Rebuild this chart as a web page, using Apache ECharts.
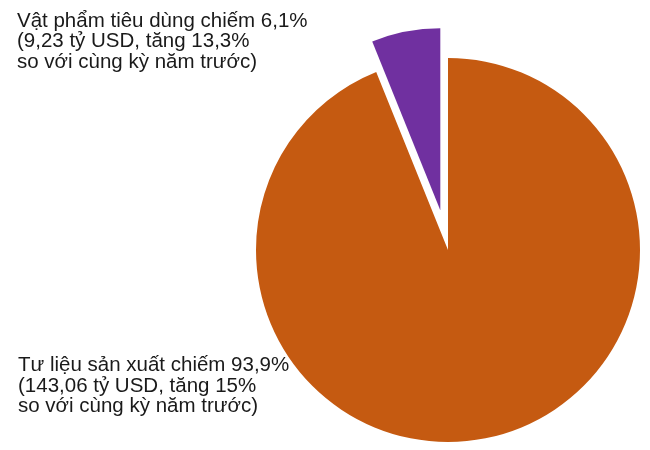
<!DOCTYPE html>
<html>
<head>
<meta charset="utf-8">
<script src="https://cdn.jsdelivr.net/npm/echarts@6/dist/echarts.min.js"></script>
<style>html,body{margin:0;padding:0;background:#fff;}#c{width:650px;height:450px;}</style>
</head>
<body>
<div id="c"></div>
<script>
var categories = ['Tư liệu sản xuất', 'Vật phẩm tiêu dùng'];
var values = [93.9, 6.1];
var colors = ['#C55A11', '#7030A0'];
var labelTexts = [
  'Tư liệu sản xuất chiếm 93,9%\n(143,06 tỷ USD, tăng 15%\nso với cùng kỳ năm trước)',
  'Vật phẩm tiêu dùng chiếm 6,1%\n(9,23 tỷ USD, tăng 13,3%\nso với cùng kỳ năm trước)'
];
var chart = echarts.init(document.getElementById('c'));
var textStyleBase = {fontFamily: 'Liberation Sans, Arial, sans-serif', fontSize: 20.5, lineHeight: 20.5, fill: '#1a1a1a'};
function makeSeries(showIndex, radius, offset) {
  return {
    type: 'pie',
    center: [448, 250],
    radius: [0, radius],
    startAngle: 90,
    clockwise: true,
    selectedMode: 'single',
    selectedOffset: offset,
    silent: true,
    label: {show: false},
    labelLine: {show: false},
    emphasis: {disabled: true},
    data: categories.map(function (c, i) {
      var shown = i === showIndex;
      return {
        name: c,
        value: values[i],
        selected: shown && offset > 0,
        itemStyle: {color: shown ? colors[i] : 'rgba(0,0,0,0)', borderWidth: 0}
      };
    })
  };
}
chart.setOption({
  animation: false,
  backgroundColor: '#fff',
  series: [makeSeries(0, 192, 0), makeSeries(1, 182, 40.5)],
  graphic: [
    {type: 'text', left: 17, top: 10.5, style: Object.assign({text: labelTexts[1]}, textStyleBase)},
    {type: 'text', left: 18, top: 355, style: Object.assign({text: labelTexts[0]}, textStyleBase)}
  ]
});
</script>
</body>
</html>
